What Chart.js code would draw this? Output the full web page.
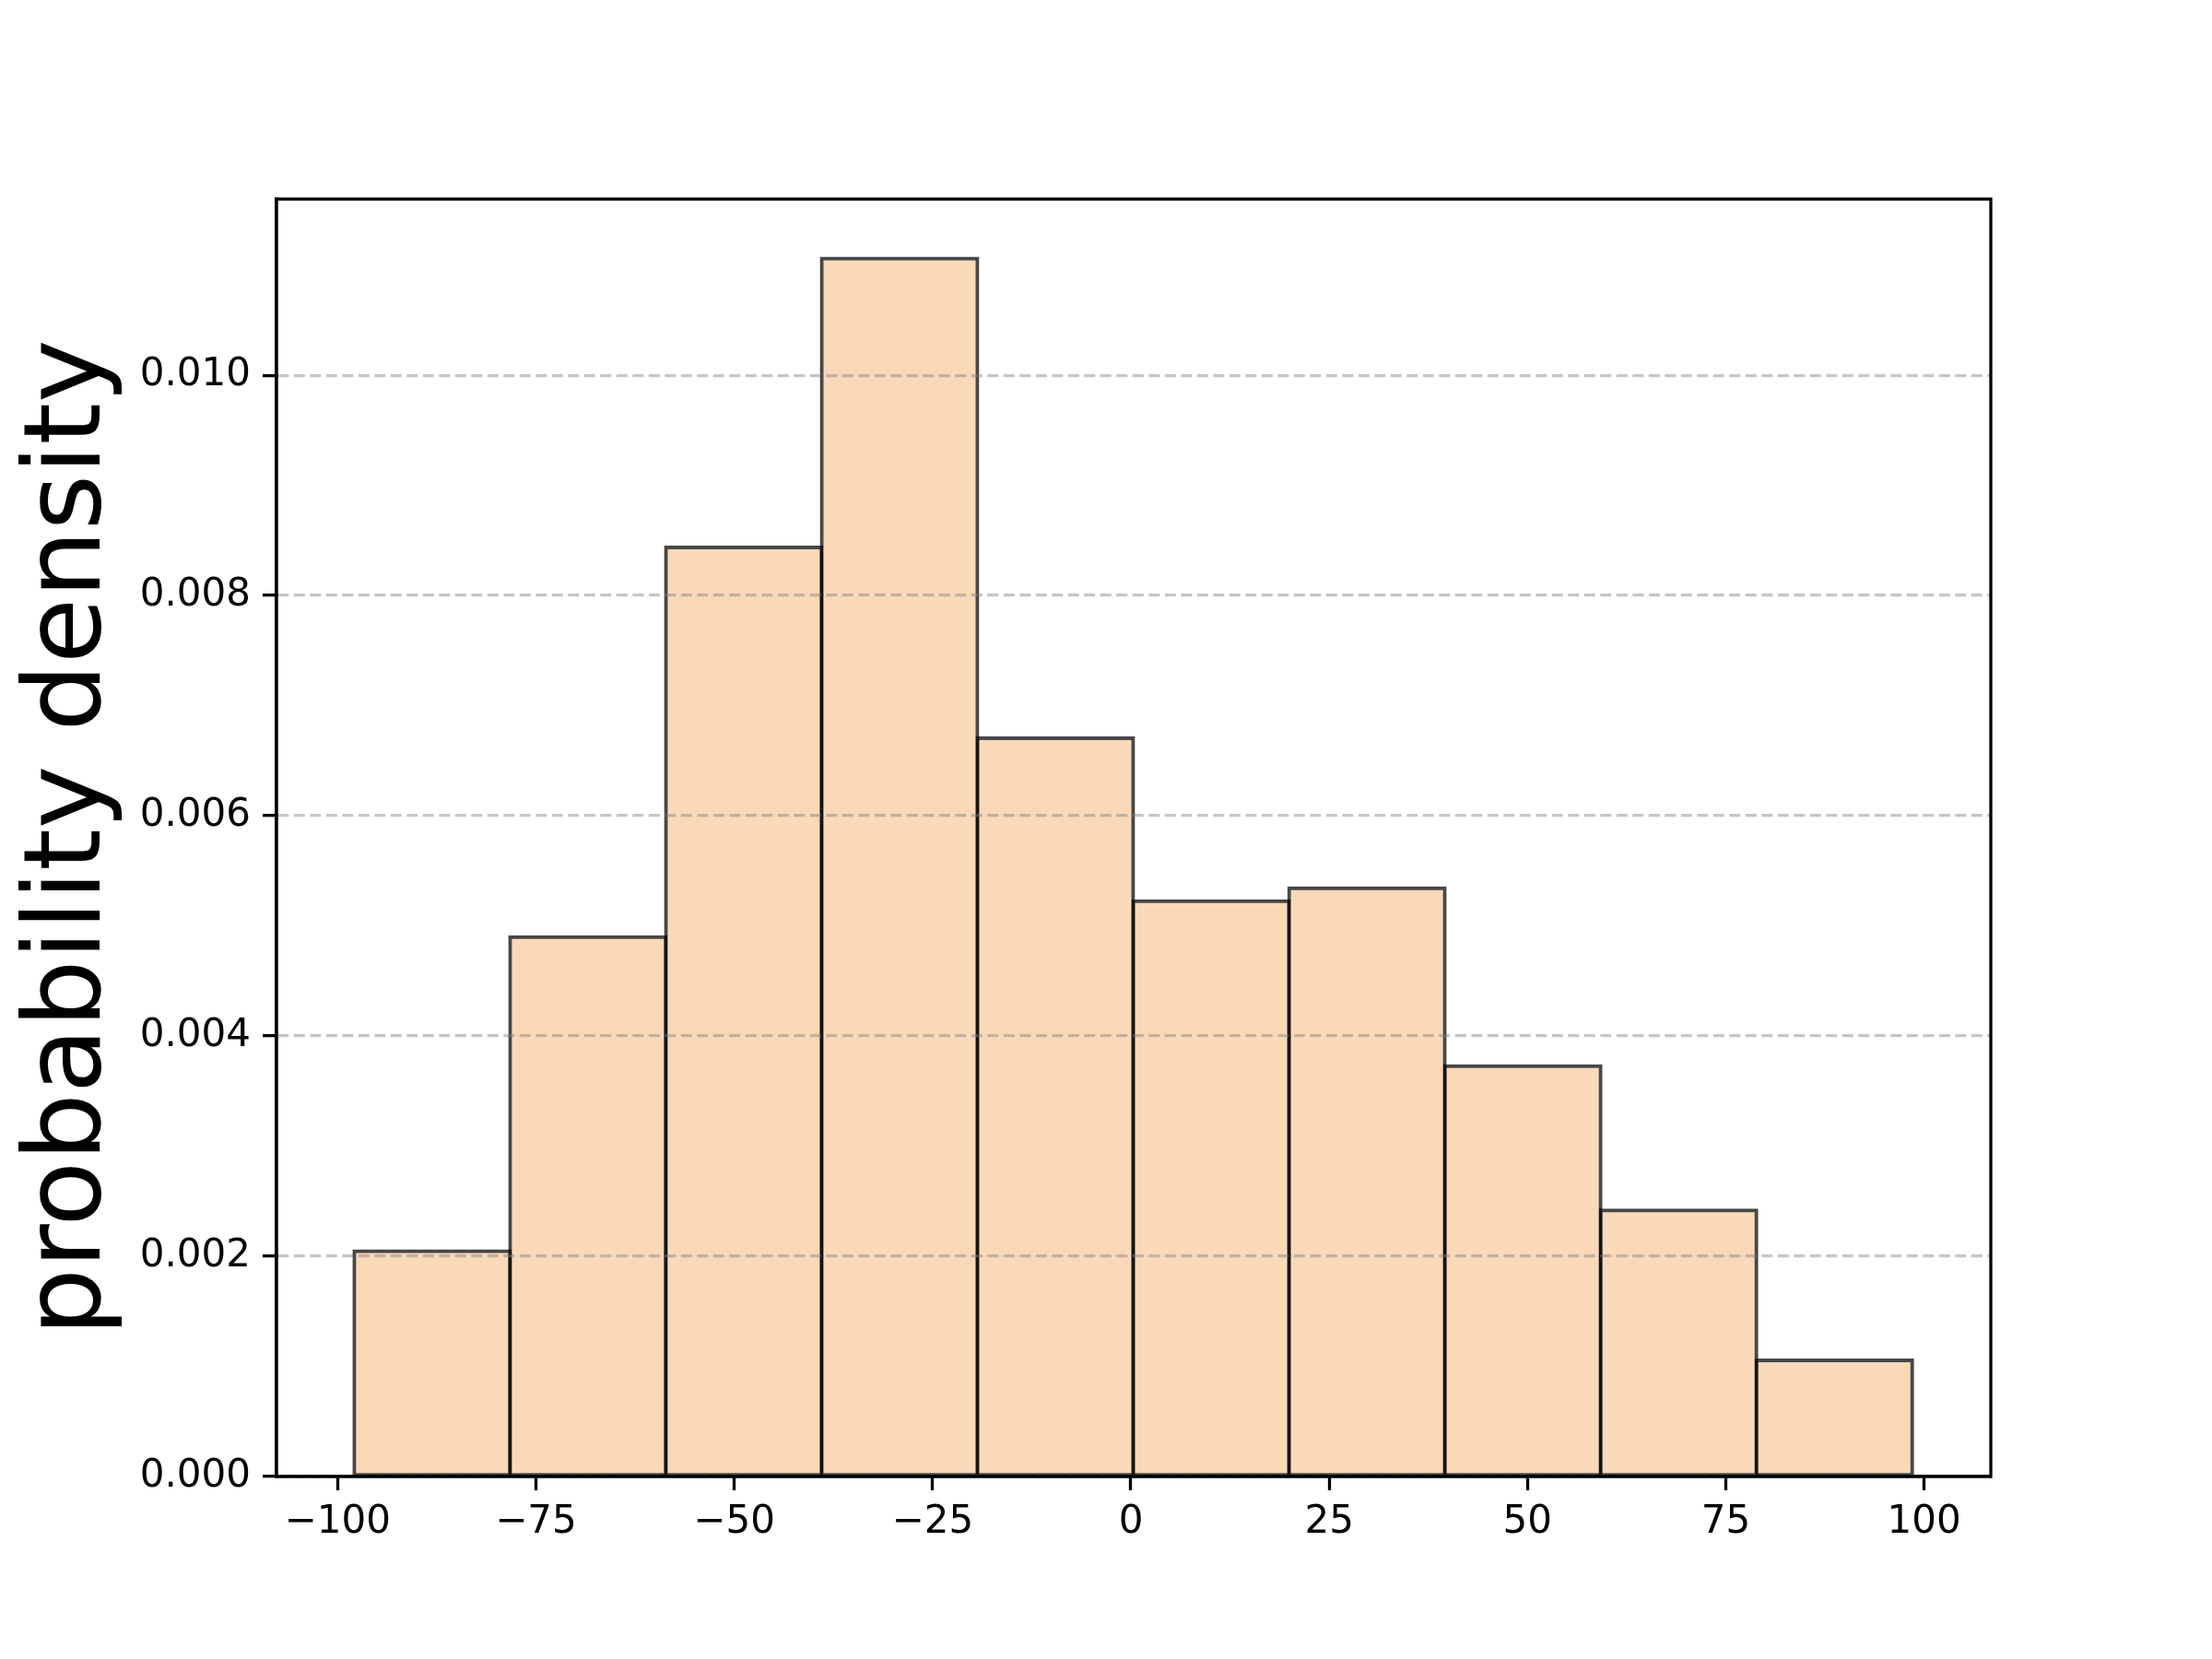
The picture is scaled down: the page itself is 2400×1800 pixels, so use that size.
<!DOCTYPE html>
<html>
<head>
<meta charset="utf-8">
<style>
  html, body { margin: 0; padding: 0; background: #fff; }
  canvas { display: block; }
</style>
<script src="https://cdn.jsdelivr.net/npm/chart.js@4.4.1/dist/chart.umd.min.js"></script>
</head>
<body>
<canvas id="histChart" width="2400" height="1800"></canvas>
<script>
// histogram bin edges and densities
const binEdges = [-97.9, -78.26, -58.62, -38.98, -19.34, 0.3, 19.94, 39.58, 59.22, 78.86, 98.5];
const densities = [0.002046, 0.004898, 0.008437, 0.01106, 0.006704, 0.005224, 0.005342, 0.003726, 0.002417, 0.001055];
const xTicks = [-100, -75, -50, -25, 0, 25, 50, 75, 100];
const yTicks = [0, 0.002, 0.004, 0.006, 0.008, 0.010];

const points = densities.map((d, i) => ({ x: (binEdges[i] + binEdges[i + 1]) / 2, y: d }));

// matplotlib-style full box round the plot area
const frameBox = {
  id: 'frame-box',
  afterDraw(chart) {
    const { ctx: c, chartArea: { left, right, top, bottom } } = chart;
    c.save();
    c.setLineDash([]);
    c.strokeStyle = '#000';
    c.lineWidth = 3.3;
    c.strokeRect(left, top, right - left, bottom - top);
    c.restore();
  }
};

Chart.defaults.font.family = '"DejaVu Sans", sans-serif';
Chart.defaults.color = '#000';

new Chart(document.getElementById('histChart').getContext('2d'), {
  type: 'bar',
  data: {
    datasets: [{
      label: 'density',
      data: points,
      backgroundColor: '#fad9b9',
      borderColor: 'rgba(0,0,0,0.72)',
      borderWidth: 4,
      borderSkipped: false,
      inflateAmount: 2,
      barPercentage: 1,
      categoryPercentage: 1
    }]
  },
  options: {
    responsive: false,
    animation: false,
    devicePixelRatio: 1,
    layout: { padding: { top: 216, right: 240, left: 0, bottom: 0 } },
    plugins: { legend: { display: false }, tooltip: { enabled: false } },
    scales: {
      x: {
        type: 'linear',
        min: -107.7,
        max: 108.4,
        offset: false,
        afterFit(s) { s.height = 198; },
        afterBuildTicks(s) { s.ticks = xTicks.map(v => ({ value: v })); },
        grid: {
          offset: false,
          drawOnChartArea: false,
          drawTicks: true,
          tickLength: 15,
          tickColor: '#000',
          tickWidth: 3.3
        },
        border: { display: true, color: '#000', width: 3.3, z: 1 },
        ticks: {
          font: { size: 42 },
          padding: 10,
          maxRotation: 0,
          autoSkip: false,
          callback: v => String(v).replace('-', '\u2212')
        }
      },
      y: {
        min: 0,
        max: 0.0116,
        afterFit(s) { s.width = 300; },
        afterBuildTicks(s) { s.ticks = yTicks.map(v => ({ value: v })); },
        grid: {
          z: 1,
          color: 'rgba(128,128,128,0.45)',
          lineWidth: 3.3,
          tickLength: 15,
          tickColor: '#000',
          tickWidth: 3.3,
          tickBorderDash: []
        },
        border: { display: true, color: '#000', width: 3.3, dash: [12, 5.5], z: 1 },
        ticks: {
          font: { size: 42 },
          padding: 13,
          autoSkip: false,
          callback: v => v.toFixed(3)
        },
        title: {
          display: true,
          text: 'probability density',
          font: { size: 116 },
          padding: { top: 8, bottom: 0 }
        }
      }
    }
  },
  plugins: [frameBox]
});
</script>
</body>
</html>
